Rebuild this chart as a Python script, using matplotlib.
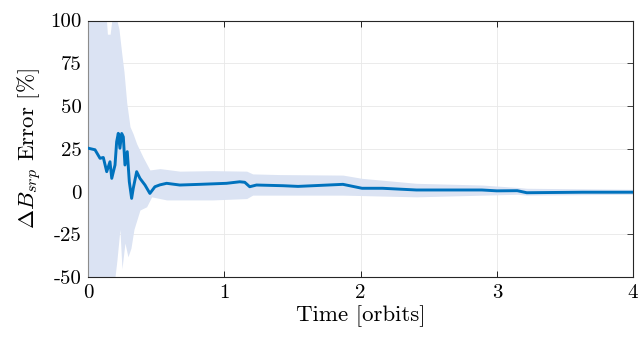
import matplotlib
matplotlib.use('Agg')
import matplotlib.pyplot as plt
import numpy as np

plt.rcParams['font.family'] = 'serif'
plt.rcParams['font.serif'] = ['cmr10']
plt.rcParams['mathtext.fontset'] = 'cm'
plt.rcParams['axes.unicode_minus'] = False

# estimate (orbits, %)
t_line = [0.00, 0.049, 0.086, 0.110, 0.135, 0.159, 0.172, 0.196, 0.208, 0.220,
          0.232, 0.245, 0.257, 0.269, 0.286, 0.301, 0.318, 0.330, 0.355, 0.379,
          0.416, 0.452, 0.489, 0.526, 0.575, 0.672, 0.819, 1.015, 1.112, 1.149,
          1.185, 1.235, 1.43, 1.54, 1.87, 2.01, 2.16, 2.41, 2.89, 3.00,
          3.15, 3.22, 3.63, 4.00]
err_line = [25.4, 24.5, 19.5, 20.0, 11.7, 17.5, 7.8, 15.6, 29.2, 34.1,
            25.4, 34.0, 32.0, 15.6, 23.4, 5.8, -3.9, 2.0, 11.7, 7.8,
            3.9, -1.0, 2.9, 4.0, 4.9, 3.9, 4.3, 4.9, 5.8, 5.5,
            2.9, 3.9, 3.5, 3.1, 4.3, 2.0, 2.0, 1.0, 1.0, 0.5,
            0.6, -0.6, -0.3, -0.3]

# uncertainty band
t_up = [0.00, 0.125, 0.140, 0.160, 0.180, 0.210, 0.225, 0.245, 0.262, 0.282,
        0.306, 0.328, 0.355, 0.403, 0.452, 0.526, 0.672, 0.914, 1.163, 1.207,
        1.405, 1.87, 2.01, 2.41, 2.89, 3.15, 3.22, 4.00]
band_up = [110, 110, 92, 92, 105, 100, 95, 81, 70, 52,
           38, 34, 28, 20, 12.7, 13.5, 12.0, 12.3, 12.0, 10.4,
           10.0, 9.7, 7.8, 4.9, 3.9, 2.5, 2.0, 1.4]
t_lo = [0.00, 0.181, 0.210, 0.232, 0.247, 0.269, 0.291, 0.313, 0.335, 0.379,
        0.428, 0.465, 0.575, 0.914, 1.163, 1.207, 1.405, 1.87, 2.41, 3.15,
        3.22, 4.00]
band_lo = [-60, -60, -40, -22, -45, -30, -38, -33, -22, -10.7,
           -8.8, -3.0, -4.8, -4.8, -4.0, -2.0, -2.0, -2.0, -3.0, -1.5,
           -2.0, -1.5]

fig = plt.figure(figsize=(6.41, 3.38), dpi=100)
ax = fig.add_axes([0.1378, 0.1796, 0.8497, 0.7597])

tt = np.union1d(t_up, t_lo)
up = np.interp(tt, t_up, band_up)
lo = np.interp(tt, t_lo, band_lo)
ax.fill_between(tt, lo, up, color='#dbe3f3', lw=0, zorder=1)
ax.plot(t_line, err_line, color='#0072BD', lw=2.1, zorder=3)

ax.set_xlim(0, 4)
ax.set_ylim(-50, 100)
ax.set_xticks([0, 1, 2, 3, 4])
ax.set_xticklabels(['0', '1', '2', '3', '4'])
yt = [-50, -25, 0, 25, 50, 75, 100]
ax.set_yticks(yt)
ax.set_yticklabels([str(v) for v in yt])
ax.grid(True, color='#e8e8e8', lw=0.6, zorder=0)
ax.set_axisbelow(True)

ax.tick_params(axis='both', direction='in', length=4, width=0.6, labelsize=15,
               top=True, right=True)
ax.tick_params(axis='x', pad=5)
ax.tick_params(axis='y', pad=5)
for s in ['top', 'right', 'bottom']:
    ax.spines[s].set_linewidth(0.8)
    ax.spines[s].set_color('#262626')
ax.spines['left'].set_linewidth(0.8)
ax.spines['left'].set_color('#8c8c8c')
ax.tick_params(axis='y', which='both', color='#262626')

ax.set_xlabel('Time [orbits]', fontsize=16.5, labelpad=2)
ax.set_ylabel(r'$\Delta B_{srp}$ Error [%]', fontsize=16.5, labelpad=4)

fig.savefig('out.png', dpi=100)
